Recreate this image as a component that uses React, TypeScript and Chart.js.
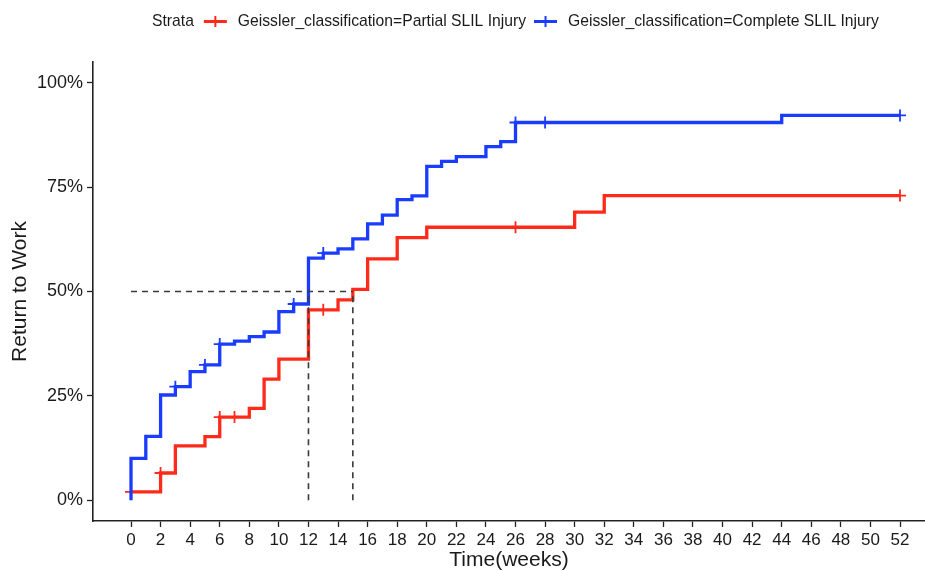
import React, { useEffect, useRef } from 'react';
import { Chart, registerables } from 'chart.js';

Chart.register(...registerables);

// ---- Data ----
const legendTitle = 'Strata';
const seriesNames = [
  'Geissler_classification=Partial SLIL Injury',
  'Geissler_classification=Complete SLIL Injury',
];
const seriesColors = ['#ff2a1a', '#1a3cff'];

// Partial SLIL injury: step curve (time in weeks, cumulative return to work %)
const partialTimes = [0, 2, 3, 5, 6, 8, 9, 10, 12, 14, 15, 16, 18, 20, 30, 32, 52];
const partialValues = [2, 6.5, 13, 15.2, 19.9, 22, 29, 33.8, 45.6, 48, 50.5, 57.8, 62.9, 65.4, 69, 73, 73];
const partialCensorTimes = [0, 2, 6, 7, 13, 26, 52];
const partialCensorValues = [2, 6.5, 19.9, 19.9, 45.6, 65.4, 73];

// Complete SLIL injury
const completeTimes = [0, 0, 1, 2, 3, 4, 5, 6, 7, 8, 9, 10, 11, 12, 13, 14, 15, 16, 17, 18, 19, 20, 21, 22, 24, 25, 26, 44, 52];
const completeValues = [0, 10, 15.3, 25.2, 27.2, 30.8, 32.4, 37.4, 38.1, 39.2, 40.3, 45.2, 47, 58, 59.2, 60.2, 62.6, 66.2, 68.3, 72, 72.9, 80, 81.2, 82.3, 84.7, 85.9, 90.5, 92.2, 92.2];
const completeCensorTimes = [3, 5, 6, 11, 13, 26, 28, 52];
const completeCensorValues = [27.2, 32.4, 37.4, 47, 59.2, 90.5, 90.5, 92.2];

// Median survival reference lines
const medianTimes = [12, 15];
const medianLevel = 50;

const xTicks = [0, 2, 4, 6, 8, 10, 12, 14, 16, 18, 20, 22, 24, 26, 28, 30, 32, 34, 36, 38, 40, 42, 44, 46, 48, 50, 52];
const yTicks = [0, 25, 50, 75, 100];
const xTitle = 'Time(weeks)';
const yTitle = 'Return to Work';

const FONT = '"Liberation Sans", Arial, Helvetica, sans-serif';
const TEXT = '#1a1a1a';

const zip = (xs: number[], ys: number[]) => xs.map((x, i) => ({ x, y: ys[i] }));

const legendPlugin = {
  id: 'strataLegend',
  afterDraw(chart: any) {
    const ctx = chart.ctx as CanvasRenderingContext2D;
    ctx.save();
    ctx.font = `15.7px ${FONT}`;
    ctx.fillStyle = TEXT;
    ctx.textBaseline = 'middle';
    ctx.textAlign = 'left';
    const y = 21.5;
    let x = 152;
    ctx.fillText(legendTitle, x, y);
    x += ctx.measureText(legendTitle).width + 10;
    seriesNames.forEach((name, i) => {
      ctx.strokeStyle = seriesColors[i];
      ctx.lineWidth = 3;
      ctx.beginPath();
      ctx.moveTo(x, y);
      ctx.lineTo(x + 23, y);
      ctx.stroke();
      ctx.lineWidth = 2;
      ctx.beginPath();
      ctx.moveTo(x + 11.5, y - 5.5);
      ctx.lineTo(x + 11.5, y + 5.5);
      ctx.stroke();
      x += 23 + 11;
      ctx.fillStyle = TEXT;
      ctx.fillText(name, x, y);
      x += ctx.measureText(name).width + 8;
    });
    ctx.restore();
  },
};

export default function App() {
  const ref = useRef<HTMLCanvasElement>(null);

  useEffect(() => {
    document.body.style.margin = '0';
    const canvas = ref.current;
    if (!canvas) return;

    const dashStyle = {
      type: 'line' as const,
      showLine: true,
      borderColor: '#3a3a3a',
      borderWidth: 1.6,
      borderDash: [6, 5],
      pointRadius: 0,
      fill: false,
      order: 0,
    };

    const datasets: any[] = [
      {
        ...dashStyle,
        label: 'median-h',
        data: [
          { x: 0, y: medianLevel },
          { x: Math.max(...medianTimes), y: medianLevel },
        ],
      },
      ...medianTimes.map((t) => ({
        ...dashStyle,
        label: 'median-v',
        data: [
          { x: t, y: 0 },
          { x: t, y: medianLevel },
        ],
      })),
      {
        label: seriesNames[1] + ' censored',
        data: zip(completeCensorTimes, completeCensorValues),
        showLine: false,
        pointStyle: 'cross',
        pointRadius: 6,
        pointBorderWidth: 1.8,
        borderColor: seriesColors[1],
        backgroundColor: seriesColors[1],
        order: 1,
      },
      {
        label: seriesNames[1],
        data: zip(completeTimes, completeValues),
        showLine: true,
        stepped: 'before',
        borderColor: seriesColors[1],
        borderWidth: 3.3,
        pointRadius: 0,
        fill: false,
        order: 2,
      },
      {
        label: seriesNames[0] + ' censored',
        data: zip(partialCensorTimes, partialCensorValues),
        showLine: false,
        pointStyle: 'cross',
        pointRadius: 6,
        pointBorderWidth: 1.8,
        borderColor: seriesColors[0],
        backgroundColor: seriesColors[0],
        order: 3,
      },
      {
        label: seriesNames[0],
        data: zip(partialTimes, partialValues),
        showLine: true,
        stepped: 'before',
        borderColor: seriesColors[0],
        borderWidth: 3.3,
        pointRadius: 0,
        fill: false,
        order: 4,
      },
    ];

    const chart = new Chart(canvas, {
      type: 'scatter',
      data: { datasets },
      options: {
        responsive: false,
        animation: false,
        events: [],
        layout: { autoPadding: false, padding: { top: 62, left: 0, right: 0, bottom: 0 } },
        plugins: {
          legend: { display: false },
          tooltip: { enabled: false },
          title: { display: false },
        },
        scales: {
          x: {
            type: 'linear',
            min: -2.57,
            max: 53.69,
            afterBuildTicks: (scale: any) => {
              scale.ticks = xTicks.map((v) => ({ value: v }));
            },
            afterFit: (scale: any) => {
              scale.height = 50;
            },
            border: { display: true, color: '#222', width: 1.6 },
            grid: {
              display: true,
              drawOnChartArea: false,
              drawTicks: true,
              tickLength: 6,
              tickColor: '#222',
              tickWidth: 1.3,
            },
            ticks: {
              autoSkip: false,
              maxRotation: 0,
              padding: 3,
              color: TEXT,
              font: { family: FONT, size: 17 },
              callback: (v: any) => String(v),
            },
            title: {
              display: true,
              text: xTitle,
              color: TEXT,
              font: { family: FONT, size: 21, lineHeight: 1 },
              padding: { top: 0, bottom: 0 },
            },
          },
          y: {
            type: 'linear',
            min: -5,
            max: 105,
            afterBuildTicks: (scale: any) => {
              scale.ticks = yTicks.map((v) => ({ value: v }));
            },
            afterFit: (scale: any) => {
              scale.width = 93;
            },
            border: { display: true, color: '#222', width: 1.6 },
            grid: {
              display: true,
              drawOnChartArea: false,
              drawTicks: true,
              tickLength: 6,
              tickColor: '#222',
              tickWidth: 1.3,
            },
            ticks: {
              padding: 4,
              color: TEXT,
              font: { family: FONT, size: 18 },
              callback: (v: any) => `${v}%`,
            },
            title: {
              display: true,
              text: yTitle,
              color: TEXT,
              font: { family: FONT, size: 21 },
              padding: { top: 8, bottom: 0 },
            },
          },
        },
      } as any,
      plugins: [legendPlugin],
    });

    return () => chart.destroy();
  }, []);

  return (
    <div style={{ width: 925, height: 571 }}>
      <canvas ref={ref} width={925} height={571} style={{ display: 'block', width: 925, height: 571 }} />
    </div>
  );
}
